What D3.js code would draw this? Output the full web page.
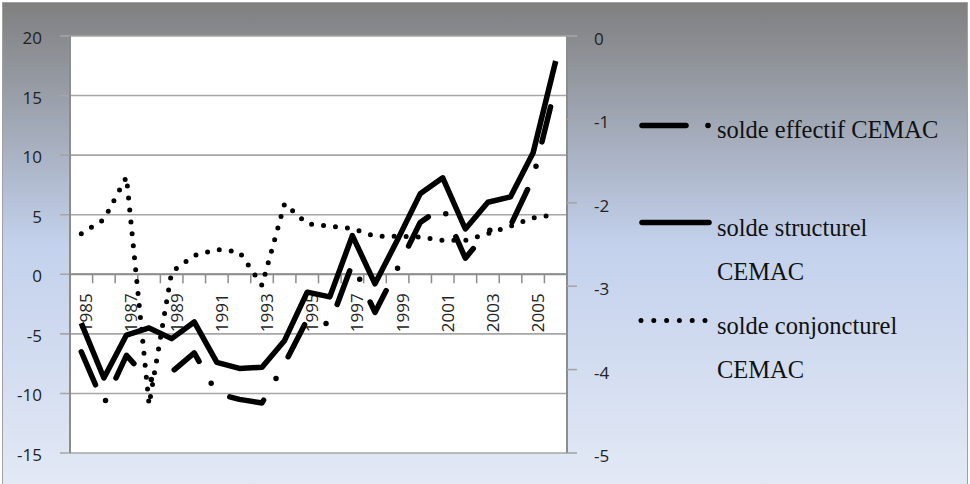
<!DOCTYPE html>
<html>
<head>
<meta charset="utf-8">
<script src="https://cdn.jsdelivr.net/npm/d3@7"></script>
<style>
  body { margin: 0; padding: 0; }
  svg { display: block; }
  .tick-label { font-family: 'Open Sans', sans-serif; font-size: 17px; fill: #222; }
  .legend-label { font-family: 'Liberation Serif', 'DejaVu Serif', serif; font-size: 24.5px; fill: #111; }
</style>
</head>
<body>
<svg id="chart"></svg>
<script>
// annees (categories)
const years = [1985, 1986, 1987, 1988, 1989, 1990, 1991, 1992, 1993, 1994, 1995,
               1996, 1997, 1998, 1999, 2000, 2001, 2002, 2003, 2004, 2005, 2006];

// solde structurel CEMAC (axe gauche)
const structurel = [-4.1, -8.7, -5.1, -4.5, -5.4, -4.0, -7.4, -7.9, -7.8, -5.55, -1.5,
                    -1.9, 3.25, -0.8, 2.9, 6.75, 8.1, 3.8, 6.05, 6.5, 10.2, 17.9];

// solde effectif CEMAC (axe gauche)
const effectif = [-6.5, -10.9, -6.8, -8.9, -8.2, -6.6, -10.0, -10.5, -10.8, -7.5, -3.8,
                  -4.2, 0.9, -3.2, 0.5, 4.35, 5.65, 1.35, 3.65, 4.1, 8.1, 15.8];

// solde conjoncturel CEMAC (axe droit)
const conjoncturel = [-2.37, -2.2, -1.69, -4.42, -2.83, -2.63, -2.56, -2.59, -2.99, -2.01, -2.25,
                      -2.28, -2.31, -2.40, -2.40, -2.41, -2.45, -2.45, -2.37, -2.28, -2.18, -2.14];

const leftTicks = [20, 15, 10, 5, 0, -5, -10, -15];
const rightTicks = [0, -1, -2, -3, -4, -5];
const xLabels = [1985, 1987, 1989, 1991, 1993, 1995, 1997, 1999, 2001, 2003, 2005];

const legendNames = [
    ["solde effectif CEMAC"],
    ["solde structurel", "CEMAC"],
    ["solde conjoncturel", "CEMAC"]
];

const width = 970;
const height = 484;

const svg = d3.select('#chart')
    .attr('width', width)
    .attr('height', height);

// fond degrade
const defs = svg.append('defs');
const grad = defs.append('linearGradient')
    .attr('id', 'bg')
    .attr('x1', 0).attr('y1', 0).attr('x2', 0).attr('y2', 1);
grad.append('stop').attr('offset', '0%').attr('stop-color', '#7f7f7f');
grad.append('stop').attr('offset', '50%').attr('stop-color', '#c3d1ec');
grad.append('stop').attr('offset', '100%').attr('stop-color', '#e3e9f5');

svg.append('rect')
    .attr('x', 0).attr('y', 0)
    .attr('width', width).attr('height', height)
    .attr('fill', '#ffffff');
svg.append('rect')
    .attr('x', 2.5).attr('y', 2.5)
    .attr('width', 965).attr('height', height)
    .attr('fill', 'url(#bg)')
    .attr('stroke', '#a0a0a0')
    .attr('stroke-width', 1);

const plot = { left: 70, right: 567, top: 36, bottom: 453 };

const x = d3.scaleBand()
    .domain(years)
    .range([plot.left, plot.right])
    .padding(0);
const cx = d => x(d) + x.bandwidth() / 2;

const yL = d3.scaleLinear().domain([-15, 20]).range([plot.bottom, plot.top]);
const yR = d3.scaleLinear().domain([-5, 0]).range([plot.bottom, plot.top]);

// zone de tracé
svg.append('rect')
    .attr('x', plot.left).attr('y', plot.top)
    .attr('width', plot.right - plot.left)
    .attr('height', plot.bottom - plot.top)
    .attr('fill', '#ffffff');

// grille horizontale + graduations gauche
svg.append('g')
    .selectAll('line')
    .data(leftTicks)
    .enter()
    .append('line')
    .attr('x1', plot.left - 10)
    .attr('x2', plot.right)
    .attr('y1', d => yL(d))
    .attr('y2', d => yL(d))
    .attr('stroke', '#a6a6a6')
    .attr('stroke-width', 1.6);

svg.append('g')
    .selectAll('text')
    .data(leftTicks)
    .enter()
    .append('text')
    .attr('class', 'tick-label')
    .attr('x', 42)
    .attr('y', d => yL(d) + 2)
    .attr('dy', '0.35em')
    .attr('text-anchor', 'end')
    .text(d => d);

// axe droit
svg.append('line')
    .attr('x1', plot.right).attr('x2', plot.right)
    .attr('y1', plot.top).attr('y2', plot.bottom)
    .attr('stroke', '#8c8c8c').attr('stroke-width', 2);

svg.append('g')
    .selectAll('line')
    .data(rightTicks)
    .enter()
    .append('line')
    .attr('x1', plot.right)
    .attr('x2', plot.right + 10)
    .attr('y1', d => yR(d))
    .attr('y2', d => yR(d))
    .attr('stroke', '#a6a6a6')
    .attr('stroke-width', 1.6);

svg.append('g')
    .selectAll('text')
    .data(rightTicks)
    .enter()
    .append('text')
    .attr('class', 'tick-label')
    .attr('x', 594)
    .attr('y', d => yR(d) + 3)
    .attr('dy', '0.35em')
    .attr('text-anchor', 'start')
    .text(d => d);

// axe gauche
svg.append('line')
    .attr('x1', plot.left).attr('x2', plot.left)
    .attr('y1', plot.top).attr('y2', plot.bottom)
    .attr('stroke', '#8c8c8c').attr('stroke-width', 2);

// axe des x (a zero)
const y0 = yL(0);
svg.append('line')
    .attr('x1', plot.left).attr('x2', plot.right)
    .attr('y1', y0).attr('y2', y0)
    .attr('stroke', '#8c8c8c').attr('stroke-width', 2);

const boundaries = years.map(d => x(d)).concat([plot.right]);
svg.append('g')
    .selectAll('line')
    .data(boundaries)
    .enter()
    .append('line')
    .attr('x1', d => d).attr('x2', d => d)
    .attr('y1', y0).attr('y2', y0 + 9)
    .attr('stroke', '#8c8c8c')
    .attr('stroke-width', 1.5);

svg.append('g')
    .selectAll('text')
    .data(xLabels)
    .enter()
    .append('text')
    .attr('class', 'tick-label')
    .attr('transform', d => `translate(${cx(d) + 5},${y0 + 19}) rotate(-90)`)
    .attr('dy', '0.35em')
    .attr('text-anchor', 'end')
    .text(d => d);

// courbes
const lineL = d3.line()
    .x((d, i) => cx(years[i]))
    .y(d => yL(d));
const lineR = d3.line()
    .x((d, i) => cx(years[i]))
    .y(d => yR(d));

svg.append('path')
    .datum(conjoncturel)
    .attr('d', lineR)
    .attr('fill', 'none')
    .attr('stroke', '#000')
    .attr('stroke-width', 5)
    .attr('stroke-linecap', 'round')
    .attr('stroke-dasharray', '0 12');

svg.append('path')
    .datum(effectif)
    .attr('d', lineL)
    .attr('fill', 'none')
    .attr('stroke', '#000')
    .attr('stroke-width', 5.5)
    .attr('stroke-linecap', 'round')
    .attr('stroke-linejoin', 'round')
    .attr('stroke-dasharray', '36 25 0 25');

svg.append('path')
    .datum(structurel)
    .attr('d', lineL)
    .attr('fill', 'none')
    .attr('stroke', '#000')
    .attr('stroke-width', 5.5)
    .attr('stroke-linejoin', 'round');

// legende
const legend = svg.append('g');

// solde effectif
legend.append('line')
    .attr('x1', 642).attr('x2', 686)
    .attr('y1', 125.5).attr('y2', 125.5)
    .attr('stroke', '#000').attr('stroke-width', 5.5)
    .attr('stroke-linecap', 'round');
legend.append('circle')
    .attr('cx', 708).attr('cy', 125.5).attr('r', 2.8)
    .attr('fill', '#000');

// solde structurel
legend.append('line')
    .attr('x1', 642).attr('x2', 709)
    .attr('y1', 222.5).attr('y2', 222.5)
    .attr('stroke', '#000').attr('stroke-width', 5.5)
    .attr('stroke-linecap', 'round');

// solde conjoncturel
legend.append('line')
    .attr('x1', 641).attr('x2', 706)
    .attr('y1', 320.5).attr('y2', 320.5)
    .attr('stroke', '#000').attr('stroke-width', 5)
    .attr('stroke-linecap', 'round')
    .attr('stroke-dasharray', '0 12.8');

const legendY = [138, 236, 334];
legendNames.forEach((lines, k) => {
    lines.forEach((t, j) => {
        legend.append('text')
            .attr('class', 'legend-label')
            .attr('x', 717)
            .attr('y', legendY[k] + j * 44)
            .text(t);
    });
});
</script>
</body>
</html>
